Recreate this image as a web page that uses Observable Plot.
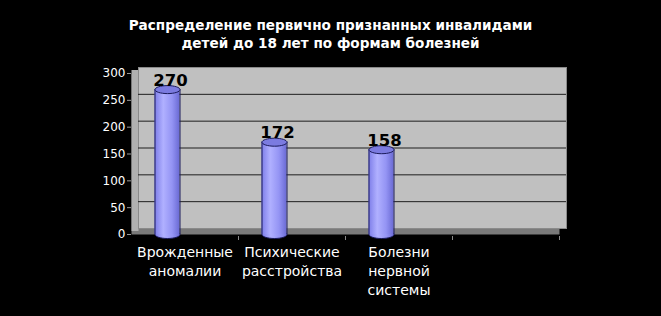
<!DOCTYPE html>
<html>
<head>
<meta charset="utf-8">
<script src="https://cdn.jsdelivr.net/npm/d3@7"></script>
<script src="https://cdn.jsdelivr.net/npm/@observablehq/plot@0.6"></script>
<style>
  html, body { margin: 0; padding: 0; background: #000; }
  #wrap { width: 661px; height: 316px; background: #000; overflow: hidden; }
  #title { height: 58px; box-sizing: border-box; padding-top: 16px; color: #fff;
           font: bold 13.6px "DejaVu Sans", sans-serif; line-height: 18px; text-align: center; }
  svg { display: block; }
</style>
</head>
<body>
<div id="wrap">
  <div id="title">Распределение первично признанных инвалидами<br>детей до 18 лет по формам болезней</div>
  <div id="chart"></div>
</div>
<script>
const categories = ["Врожденные\nаномалии", "Психические\nрасстройства", "Болезни\nнервной\nсистемы", ""];
const values = [270, 172, 158];
const yTicks = [0, 50, 100, 150, 200, 250, 300];
const gridValues = [50, 100, 150, 200, 250];

const data = values.map((v, i) => ({cat: categories[i], value: v}));

const ellipse = {
  draw(ctx) {
    const rx = 12.5, ry = 4, k = 0.5523;
    ctx.moveTo(-rx, 0);
    ctx.bezierCurveTo(-rx, -ry * k, -rx * k, -ry, 0, -ry);
    ctx.bezierCurveTo(rx * k, -ry, rx, -ry * k, rx, 0);
    ctx.bezierCurveTo(rx, ry * k, rx * k, ry, 0, ry);
    ctx.bezierCurveTo(-rx * k, ry, -rx, ry * k, -rx, 0);
    ctx.closePath();
  }
};

const barShift = -17.5;
const step = 107;

const chart = Plot.plot({
  width: 661,
  height: 258,
  marginLeft: 131,
  marginRight: 102,
  marginTop: 15,
  marginBottom: 82,
  style: {background: "black", color: "white", fontFamily: "DejaVu Sans", overflow: "visible"},
  x: {domain: categories, padding: 0, axis: null, label: null},
  y: {domain: [0, 300], axis: null, label: null},
  marks: [
    Plot.frame({fill: "#7a7a7a"}),
    Plot.ruleX([categories[0]], {y1: 0, y2: 300, stroke: "#b0b0b0", strokeWidth: 7, dx: -step / 2 + 3.5, dy: -3}),
    Plot.frame({fill: "#c0c0c0", stroke: "#8a8a8a", dx: 7, dy: -6}),
    Plot.ruleY(gridValues, {stroke: "#1e1e1e", dx: 7, dy: -6}),
    Plot.ruleX(categories, {stroke: "#8a8a8a", dx: step / 2, insetTop: 163, insetBottom: -6}),
    Plot.axisY({ticks: yTicks, tickSize: 4, tickPadding: 2, fontSize: 12, stroke: "#9a9a9a", label: null}),
    Plot.axisX({tickSize: 0, tickPadding: 9, fontSize: 14, lineHeight: 1.36, label: null}),
    // cylinder bottoms
    Plot.dot(data, {x: "cat", y: 0, symbol: ellipse, r: 5, fill: "url(#cyl)", stroke: "#1a1a5a", strokeWidth: 1, dx: barShift}),
    // cylinder bodies
    Plot.barY(data, {x: "cat", y: "value", fill: "url(#cyl)", insetLeft: 23.5, insetRight: 58.5}),
    Plot.ruleX(data, {x: "cat", y1: 0, y2: "value", stroke: "#1a1a5a", dx: barShift - 12.5}),
    Plot.ruleX(data, {x: "cat", y1: 0, y2: "value", stroke: "#1a1a5a", dx: barShift + 12.5}),
    // cylinder tops
    Plot.dot(data, {x: "cat", y: "value", symbol: ellipse, r: 5, fill: "#7b7be0", stroke: "#1a1a5a", strokeWidth: 1, dx: barShift}),
    Plot.text(data, {x: "cat", y: "value", text: d => String(d.value), fill: "black", fontSize: 16.5, fontWeight: "bold", dx: barShift + 3, dy: -9})
  ]
});

const svg = d3.select(chart.tagName.toLowerCase() === "svg" ? chart : chart.querySelector("svg"));
const grad = svg.insert("defs", ":first-child").append("linearGradient")
  .attr("id", "cyl").attr("x1", "0").attr("x2", "1").attr("y1", "0").attr("y2", "0");
grad.append("stop").attr("offset", "0%").attr("stop-color", "#7c7ce8");
grad.append("stop").attr("offset", "35%").attr("stop-color", "#b0b0ff");
grad.append("stop").attr("offset", "70%").attr("stop-color", "#9494f4");
grad.append("stop").attr("offset", "100%").attr("stop-color", "#6a6ad4");

document.getElementById("chart").appendChild(chart);
</script>
</body>
</html>
